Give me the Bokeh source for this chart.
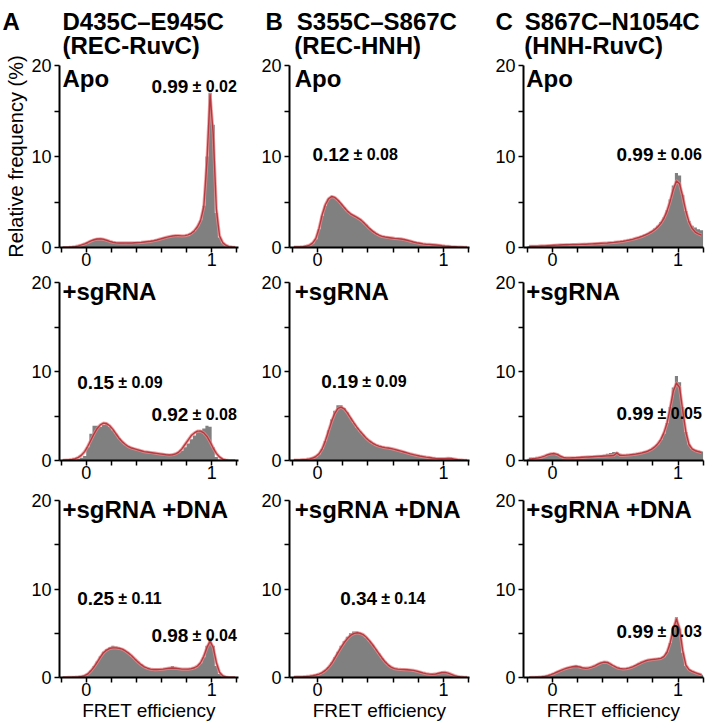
import numpy as np
from bokeh.plotting import figure
from bokeh.layouts import column, row
from bokeh.models import Range1d, FixedTicker, Label, Title
from bokeh.embed import file_html
from bokeh.resources import INLINE

# ---------------- data ----------------
BIN_LO = -0.2
BIN_W = 0.025

x_major = [0, 1]
x_minor = [-0.2, 0.2, 0.4, 0.6, 0.8, 1.2]
y_major = [0, 10, 20]
y_minor = [5, 15]

letters = ["A", "B", "C"]
constructs = ["D435C\u2013E945C", "S355C\u2013S867C", "S867C\u2013N1054C"]
domains = ["(REC-RuvC)", "(REC-HNH)", "(HNH-RuvC)"]
conditions = ["Apo", "+sgRNA", "+sgRNA +DNA"]
y_label = "Relative frequency (%)"
x_label = "FRET efficiency"

# fitted peak values (mean, sd) per panel [row][col]
means = [
    [[("0.99", "\u00b1 0.02")], [("0.12", "\u00b1 0.08")], [("0.99", "\u00b1 0.06")]],
    [[("0.15", "\u00b1 0.09"), ("0.92", "\u00b1 0.08")], [("0.19", "\u00b1 0.09")], [("0.99", "\u00b1 0.05")]],
    [[("0.25", "\u00b1 0.11"), ("0.98", "\u00b1 0.04")], [("0.34", "\u00b1 0.14")], [("0.99", "\u00b1 0.03")]],
]

# relative frequency (%) per 0.025 FRET bin, from -0.2 to 1.2
hist_A1 = [0, 0, 0, 0.05, 0.1, 0.15, 0.25, 0.35,
           0.5, 0.7, 0.85, 1.0, 1.05, 0.95, 0.8, 0.65,
           0.55, 0.5, 0.5, 0.5, 0.45, 0.5, 0.5, 0.55,
           0.5, 0.55, 0.6, 0.6, 0.65, 0.7, 0.8, 0.9,
           1.0, 1.1, 1.2, 1.25, 1.3, 1.25, 1.2, 1.25,
           1.3, 1.5, 1.8, 2.3, 3.0, 4.6, 10.0, 17.0,
           13.5, 3.8, 1.1, 0.5, 0.25, 0.1, 0.05, 0]
fit_A1 = [0, 0, 0.02, 0.05, 0.1, 0.18, 0.28, 0.4,
          0.55, 0.72, 0.85, 0.93, 0.95, 0.9, 0.8, 0.68,
          0.58, 0.52, 0.5, 0.5, 0.5, 0.5, 0.5, 0.52,
          0.54, 0.56, 0.6, 0.64, 0.68, 0.74, 0.82, 0.92,
          1.02, 1.12, 1.2, 1.26, 1.3, 1.3, 1.28, 1.3,
          1.38, 1.55, 1.85, 2.3, 3.0, 4.5, 9.5, 16.8,
          12.5, 4.2, 1.3, 0.55, 0.25, 0.1, 0.05, 0.02]

hist_A2 = [0, 0.05, 0.1, 0.1, 0.15, 0.2, 0.3, 0.5,
           1.5, 3.0, 3.9, 3.9, 3.8, 4.0, 4.1, 3.8,
           3.4, 3.0, 2.5, 2.1, 1.8, 1.6, 1.4, 1.3,
           1.2, 1.1, 1.0, 0.95, 0.9, 0.85, 0.8, 0.75,
           0.7, 0.7, 0.7, 0.7, 0.8, 0.9, 1.1, 1.5,
           1.9, 2.4, 2.8, 3.2, 3.4, 3.6, 3.9, 3.8,
           1.5, 0.4, 0.1, 0.05, 0, 0, 0, 0]
fit_A2 = [0.02, 0.05, 0.08, 0.12, 0.2, 0.35, 0.6, 1.0,
          1.6, 2.3, 3.0, 3.6, 4.0, 4.2, 4.15, 3.9,
          3.5, 3.0, 2.5, 2.1, 1.8, 1.55, 1.4, 1.3,
          1.2, 1.1, 1.0, 0.95, 0.9, 0.85, 0.8, 0.75,
          0.7, 0.65, 0.62, 0.65, 0.75, 0.95, 1.3, 1.8,
          2.3, 2.8, 3.1, 3.3, 3.3, 3.1, 2.7, 2.1,
          1.4, 0.8, 0.4, 0.15, 0.05, 0, 0, 0]

hist_A3 = [0, 0, 0, 0, 0.02, 0.05, 0.1, 0.2,
           0.4, 0.8, 1.3, 1.8, 2.4, 2.9, 3.2, 3.4,
           3.6, 3.5, 3.3, 3.2, 3.0, 2.8, 2.4, 2.1,
           1.8, 1.5, 1.2, 1.0, 0.95, 0.9, 0.9, 0.95,
           1.0, 1.0, 1.1, 1.3, 1.1, 1.0, 0.9, 0.9,
           1.0, 1.0, 1.1, 1.3, 1.6, 2.3, 3.6, 4.5,
           3.6, 1.3, 0.4, 0.15, 0.05, 0, 0, 0]
fit_A3 = [0, 0, 0.01, 0.02, 0.04, 0.07, 0.12, 0.2,
          0.4, 0.75, 1.2, 1.75, 2.3, 2.8, 3.1, 3.3,
          3.35, 3.35, 3.3, 3.2, 3.0, 2.75, 2.45, 2.1,
          1.75, 1.45, 1.2, 1.05, 0.95, 0.9, 0.9, 0.92,
          0.95, 1.0, 1.05, 1.08, 1.05, 1.0, 0.95, 0.95,
          0.95, 1.0, 1.1, 1.3, 1.7, 2.4, 3.4, 4.1,
          3.4, 1.7, 0.6, 0.2, 0.05, 0, 0, 0]

hist_B1 = [0.05, 0.05, 0.05, 0.1, 0.15, 0.25, 0.45, 0.9,
           2.0, 3.5, 4.6, 5.3, 5.6, 5.5, 5.2, 4.8,
           4.4, 4.0, 3.7, 3.5, 3.3, 3.1, 2.8, 2.5,
           2.1, 1.8, 1.5, 1.3, 1.2, 1.1, 1.1, 1.05,
           1.0, 1.0, 0.95, 0.9, 0.8, 0.7, 0.6, 0.5,
           0.45, 0.4, 0.35, 0.35, 0.3, 0.3, 0.25, 0.2,
           0.15, 0.15, 0.1, 0.1, 0.05, 0.05, 0, 0]
fit_B1 = [0.05, 0.05, 0.06, 0.1, 0.16, 0.27, 0.5, 1.0,
          2.1, 3.6, 4.7, 5.35, 5.6, 5.5, 5.2, 4.8,
          4.4, 4.0, 3.7, 3.5, 3.3, 3.1, 2.8, 2.45,
          2.1, 1.8, 1.55, 1.35, 1.22, 1.15, 1.1, 1.05,
          1.0, 0.98, 0.94, 0.88, 0.8, 0.7, 0.6, 0.52,
          0.46, 0.4, 0.36, 0.34, 0.31, 0.28, 0.25, 0.2,
          0.16, 0.13, 0.1, 0.08, 0.05, 0.04, 0.02, 0.01]

hist_B2 = [0.05, 0.05, 0.05, 0.1, 0.1, 0.15, 0.25, 0.4,
           0.7, 1.3, 2.2, 3.4, 4.6, 5.6, 6.2, 6.2,
           5.9, 5.4, 4.8, 4.2, 3.7, 3.3, 2.9, 2.5,
           2.2, 1.9, 1.7, 1.6, 1.5, 1.45, 1.4, 1.35,
           1.25, 1.15, 1.05, 0.95, 0.85, 0.75, 0.65, 0.55,
           0.5, 0.45, 0.4, 0.35, 0.3, 0.25, 0.2, 0.2,
           0.2, 0.3, 0.25, 0.15, 0.1, 0.05, 0.05, 0]
fit_B2 = [0.05, 0.05, 0.06, 0.09, 0.12, 0.18, 0.28, 0.45,
          0.75, 1.3, 2.2, 3.3, 4.4, 5.3, 5.85, 6.0,
          5.8, 5.35, 4.8, 4.25, 3.75, 3.3, 2.9, 2.5,
          2.2, 1.95, 1.75, 1.62, 1.52, 1.45, 1.4, 1.33,
          1.25, 1.15, 1.05, 0.95, 0.85, 0.75, 0.66, 0.58,
          0.5, 0.44, 0.38, 0.33, 0.28, 0.24, 0.21, 0.2,
          0.21, 0.24, 0.22, 0.16, 0.1, 0.06, 0.03, 0.01]

hist_B3 = [0.05, 0.05, 0.05, 0.1, 0.1, 0.15, 0.2, 0.25,
           0.35, 0.55, 0.8, 1.2, 1.7, 2.3, 2.9, 3.6,
           4.1, 4.6, 5.0, 5.2, 5.2, 5.0, 4.8, 4.5,
           4.1, 3.7, 3.2, 2.7, 2.2, 1.8, 1.4, 1.15,
           1.0, 0.95, 0.9, 0.9, 0.85, 0.85, 0.8, 0.75,
           0.6, 0.5, 0.4, 0.35, 0.35, 0.4, 0.5, 0.6,
           0.6, 0.45, 0.3, 0.2, 0.1, 0.05, 0.05, 0]
fit_B3 = [0.05, 0.06, 0.07, 0.09, 0.12, 0.16, 0.21, 0.28,
          0.38, 0.55, 0.8, 1.15, 1.6, 2.2, 2.8, 3.4,
          3.95, 4.4, 4.75, 4.95, 5.05, 5.0, 4.85, 4.55,
          4.15, 3.7, 3.2, 2.7, 2.2, 1.75, 1.4, 1.15,
          1.0, 0.95, 0.92, 0.9, 0.88, 0.85, 0.8, 0.72,
          0.62, 0.52, 0.44, 0.38, 0.37, 0.4, 0.48, 0.56,
          0.58, 0.5, 0.36, 0.22, 0.12, 0.06, 0.03, 0.01]

hist_C1 = [0.15, 0.15, 0.15, 0.2, 0.2, 0.2, 0.25, 0.25,
           0.3, 0.3, 0.35, 0.35, 0.35, 0.35, 0.3, 0.3,
           0.3, 0.3, 0.35, 0.35, 0.4, 0.45, 0.4, 0.45,
           0.5, 0.5, 0.55, 0.6, 0.6, 0.65, 0.7, 0.75,
           0.8, 0.9, 1.0, 1.1, 1.3, 1.45, 1.6, 1.8,
           2.1, 2.4, 2.8, 3.3, 4.1, 5.3, 6.8, 8.2,
           7.9, 5.8, 4.0, 2.9, 2.4, 2.2, 2.0, 1.9]
fit_C1 = [0.12, 0.13, 0.14, 0.15, 0.17, 0.18, 0.2, 0.22,
          0.24, 0.26, 0.28, 0.3, 0.31, 0.32, 0.33, 0.33,
          0.34, 0.35, 0.36, 0.38, 0.4, 0.42, 0.44, 0.46,
          0.48, 0.5, 0.53, 0.56, 0.6, 0.64, 0.69, 0.75,
          0.82, 0.9, 1.0, 1.1, 1.22, 1.36, 1.52, 1.72,
          1.95, 2.25, 2.65, 3.2, 4.0, 5.1, 6.4, 7.3,
          7.0, 5.6, 4.0, 2.8, 2.1, 1.7, 1.5, 1.35]

hist_C2 = [0.2, 0.2, 0.25, 0.3, 0.35, 0.45, 0.65, 0.8,
           0.85, 0.75, 0.5, 0.35, 0.3, 0.3, 0.35, 0.35,
           0.4, 0.45, 0.5, 0.45, 0.5, 0.55, 0.55, 0.6,
           0.65, 0.75, 0.85, 0.95, 0.95, 0.75, 0.65, 0.65,
           0.7, 0.75, 0.8, 0.85, 0.9, 1.0, 1.1, 1.3,
           1.5, 1.8, 2.3, 3.0, 4.2, 6.0, 8.2, 9.5,
           8.8, 6.0, 3.2, 1.8, 1.3, 1.2, 1.1, 1.0]
fit_C2 = [0.18, 0.2, 0.24, 0.3, 0.38, 0.5, 0.65, 0.75,
          0.78, 0.68, 0.48, 0.34, 0.3, 0.3, 0.31, 0.32,
          0.34, 0.36, 0.38, 0.4, 0.42, 0.44, 0.46, 0.48,
          0.5, 0.52, 0.54, 0.56, 0.85, 0.58, 0.58, 0.6,
          0.63, 0.67, 0.72, 0.78, 0.86, 0.95, 1.07, 1.25,
          1.5, 1.85, 2.35, 3.1, 4.2, 5.9, 7.8, 8.7,
          8.2, 5.6, 3.2, 1.8, 1.3, 1.1, 1.0, 0.9]

hist_C3 = [0, 0, 0, 0.05, 0.05, 0.1, 0.15, 0.3,
           0.45, 0.6, 0.75, 0.9, 1.0, 1.15, 1.3, 1.4,
           1.3, 1.1, 1.0, 1.05, 1.15, 1.3, 1.5, 1.7,
           1.8, 1.75, 1.5, 1.25, 1.1, 1.0, 0.95, 1.0,
           1.05, 1.2, 1.4, 1.6, 1.8, 1.9, 2.0, 2.1,
           2.1, 2.2, 2.2, 2.4, 2.9, 3.9, 5.6, 6.8,
           5.5, 2.8, 1.3, 0.9, 0.7, 0.55, 0.4, 0.3]
fit_C3 = [0, 0.01, 0.02, 0.04, 0.07, 0.12, 0.2, 0.32,
          0.46, 0.62, 0.78, 0.92, 1.05, 1.15, 1.22, 1.25,
          1.2, 1.1, 1.05, 1.08, 1.18, 1.32, 1.5, 1.66,
          1.74, 1.7, 1.52, 1.3, 1.12, 1.02, 0.98, 1.0,
          1.08, 1.2, 1.36, 1.55, 1.72, 1.86, 1.96, 2.02,
          2.06, 2.1, 2.16, 2.35, 2.85, 3.9, 5.5, 6.6,
          5.5, 3.0, 1.4, 0.9, 0.7, 0.55, 0.42, 0.3]

hists = [[hist_A1, hist_B1, hist_C1], [hist_A2, hist_B2, hist_C2], [hist_A3, hist_B3, hist_C3]]
fits = [[fit_A1, fit_B1, fit_C1], [fit_A2, fit_B2, fit_C2], [fit_A3, fit_B3, fit_C3]]

# ---------------- layout / style ----------------
FONT = "Liberation Sans"
FW = [179, 180, 180]
FH = [182, 178, 177]
ML = [59, 34, 33]
MR = [17, 21, 6]
MT = [64, 9, 14]
MB = [26, 26, 48]
XR = [(-0.213, 1.214), (-0.222, 1.207), (-0.231, 1.203)]

# spacing characters between panel letter and construct, and indent of 2nd title line
title_gap = ["\u2003\u2002\u2008", "\u2002\u200a", "\u2002"]
title_indent = ["\u2003\u2003\u2002", "\u2003\u2009", "\u2003\u2009"]
title_offset = [-57, -24, -28]

# label centre positions (data units) per panel [row][col]
mean_pos = [
    [[(0.52, 17.7)], [(-0.04, 10.2)], [(0.51, 10.2)]],
    [[(-0.072, 8.73), (0.52, 5.13)], [(0.03, 8.9)], [(0.51, 5.3)]],
    [[(-0.072, 8.9), (0.52, 4.75)], [(0.18, 8.9)], [(0.51, 5.2)]],
]
cond_x = [-0.19, -0.18, -0.21]
cond_y = [18.55, 19.0, 19.0]


def add_text(p, x, y, text, size, x_offset=0):
    p.add_layout(Label(x=x, y=y, text=text, text_font=FONT, text_font_size=f"{size}px",
                       text_font_style="bold", text_color="black",
                       text_align="left", text_baseline="middle", x_offset=x_offset))


def make_panel(r, c):
    p = figure(frame_width=FW[c], frame_height=FH[r], x_range=Range1d(*XR[c]), y_range=Range1d(0, 20),
               output_backend="svg", toolbar_location=None,
               min_border_left=ML[c], min_border_right=MR[c], min_border_top=MT[r], min_border_bottom=MB[r])
    p.outline_line_color = None
    p.grid.visible = False
    p.background_fill_color = "white"
    p.border_fill_color = "white"

    h = np.array(hists[r][c], dtype=float)
    n = len(h)
    edges = BIN_LO + BIN_W * np.arange(n + 1)
    centers = edges[:-1] + BIN_W / 2
    # histogram outline as one stepped area (no seams between bins)
    xs = np.repeat(edges, 2)
    ys = np.concatenate([[0.0], np.repeat(h, 2), [0.0]])
    p.patch(xs, ys, fill_color="#808080", line_color=None)
    f = np.array(fits[r][c], dtype=float)
    p.line(centers, f, line_color="#ee8a8a", line_width=3.2, line_alpha=0.75, line_join="round")
    p.line(centers, f, line_color="#b3353d", line_width=1.4, line_alpha=0.95, line_join="round")

    for ax in (p.xaxis[0], p.yaxis[0]):
        ax.axis_line_width = 2
        ax.axis_line_color = "black"
        ax.major_tick_line_width = 1.5
        ax.minor_tick_line_width = 1.5
        ax.major_tick_line_color = "black"
        ax.minor_tick_line_color = "black"
        ax.major_tick_in = 0
        ax.minor_tick_in = 0
        ax.major_tick_out = 5
        ax.minor_tick_out = 5
        ax.major_label_text_font = FONT
        ax.major_label_text_font_size = "18px"
        ax.major_label_text_color = "black"
    p.xaxis.ticker = FixedTicker(ticks=x_major, minor_ticks=x_minor)
    p.yaxis.ticker = FixedTicker(ticks=y_major, minor_ticks=y_minor)
    p.xaxis.major_label_standoff = 0
    p.yaxis.major_label_standoff = 3
    if r == 2:
        p.xaxis.axis_label = x_label
        p.xaxis.axis_label_text_font = FONT
        p.xaxis.axis_label_text_font_size = "19px"
        p.xaxis.axis_label_text_font_style = "normal"
        p.xaxis.axis_label_text_color = "black"
        p.xaxis.axis_label_standoff = 1
    if r == 0 and c == 0:
        p.yaxis.axis_label = y_label
        p.yaxis.axis_label_text_font = FONT
        p.yaxis.axis_label_text_font_size = "20px"
        p.yaxis.axis_label_text_font_style = "normal"
        p.yaxis.axis_label_text_color = "black"
        p.yaxis.axis_label_standoff = 1

    # condition label
    add_text(p, cond_x[c], cond_y[r], conditions[r], 24)
    # fitted means
    for (m, s), (mx, my) in zip(means[r][c], mean_pos[r][c]):
        add_text(p, mx, my, m, 19)
        add_text(p, mx, my, s, 16, x_offset=41)

    if r == 0:
        text = letters[c] + title_gap[c] + constructs[c] + "\n" + title_indent[c] + domains[c]
        p.add_layout(Title(text=text, align="left", offset=title_offset[c], standoff=12,
                           text_font=FONT, text_font_size="24px", text_font_style="bold",
                           text_color="black", text_line_height=0.9), "above")
    return p


rows = [row(*[make_panel(r, c) for c in range(3)]) for r in range(3)]
layout = column(*rows)

open("out.html", "w").write(file_html(layout, INLINE))
